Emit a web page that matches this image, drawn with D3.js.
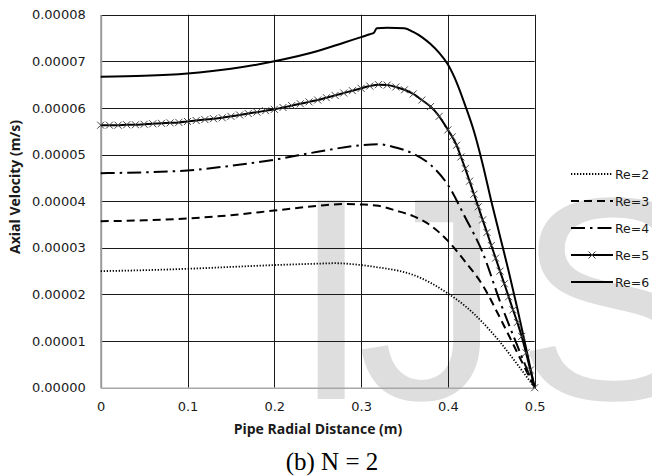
<!DOCTYPE html>
<html><head><meta charset="utf-8">
<script src="https://cdn.jsdelivr.net/npm/d3@7"></script>
<style>html,body{margin:0;padding:0;background:#fff;}svg{display:block;}</style>
</head><body>
<svg id="c" width="652" height="476"></svg>
<script>
// Values of axial velocity in units of 1e-5 m/s
const xTicks = [0, 0.1, 0.2, 0.3, 0.4, 0.5];
const yTicks = [0, 1, 2, 3, 4, 5, 6, 7, 8];
const seriesNames = ["Re=2", "Re=3", "Re=4", "Re=5", "Re=6"];

const re2x = [0,0.05,0.1,0.15,0.2,0.25,0.27,0.3,0.32,0.34,0.36,0.38,0.4,0.42,0.44,0.46,0.48,0.5];
const re2y = [2.50,2.52,2.55,2.59,2.63,2.66,2.67,2.63,2.58,2.52,2.42,2.25,2.02,1.75,1.40,0.98,0.50,0];

const re3x = [0,0.05,0.1,0.15,0.2,0.25,0.28,0.3,0.32,0.34,0.36,0.38,0.4,0.42,0.44,0.46,0.48,0.5];
const re3y = [3.57,3.59,3.63,3.70,3.80,3.90,3.94,3.93,3.90,3.80,3.68,3.48,3.15,2.70,2.20,1.50,0.75,0];

const re4x = [0,0.05,0.1,0.15,0.2,0.25,0.3,0.32,0.34,0.36,0.38,0.4,0.42,0.44,0.46,0.48,0.5];
const re4y = [4.60,4.62,4.66,4.76,4.89,5.06,5.20,5.22,5.15,5.02,4.78,4.35,3.65,2.90,1.85,0.90,0];

const re5x = [0,0.01,0.02,0.03,0.04,0.05,0.06,0.07,0.08,0.09,0.1,0.11,0.12,0.13,0.14,0.15,0.16,0.17,0.18,0.19,0.2,
  0.21,0.22,0.23,0.24,0.25,0.26,0.27,0.28,0.29,0.3,0.31,0.32,0.33,0.34,0.35,0.36,0.37,0.38,0.39,0.4,
  0.405,0.41,0.415,0.42,0.425,0.43,0.435,0.44,0.445,0.45,0.455,0.46,0.465,0.47,0.475,0.48,0.485,0.49,0.495,0.5];
const re5y = [5.63,5.63,5.63,5.64,5.64,5.65,5.66,5.67,5.68,5.69,5.71,5.73,5.75,5.77,5.79,5.82,5.85,5.88,5.91,5.94,5.97,
  6.01,6.05,6.09,6.13,6.17,6.22,6.27,6.32,6.37,6.42,6.47,6.50,6.49,6.45,6.39,6.30,6.17,6.03,5.82,5.53,
  5.38,5.20,4.95,4.70,4.43,4.15,3.88,3.60,3.33,3.05,2.78,2.50,2.23,1.95,1.67,1.40,1.10,0.75,0.38,0];

const re6x = [0,0.05,0.1,0.15,0.2,0.25,0.28,0.3,0.31,0.315,0.318,0.33,0.35,0.36,0.37,0.38,0.39,0.4,0.41,0.42,0.43,0.44,0.45,0.46,0.47,0.48,0.49,0.5];
const re6y = [6.67,6.69,6.74,6.84,7.00,7.22,7.40,7.52,7.58,7.62,7.71,7.72,7.71,7.63,7.52,7.37,7.18,6.93,6.55,6.05,5.50,4.80,4.00,3.25,2.50,1.70,0.85,0];

const svg = d3.select("#c");
const L = 100.7, R = 534.7, T = 14.7, B = 387.7;
const x = d3.scaleLinear().domain([0, 0.5]).range([L, R]);
const y = d3.scaleLinear().domain([0, 8]).range([B, T]);

// watermark
const wm = svg.append("g").attr("fill", "#dedede")
  .style("font-family", "'Liberation Sans', Arial, sans-serif").style("font-size", "289px");
wm.append("text").attr("x", 291).attr("y", 399).text("I");
wm.append("text").attr("x", 357).attr("y", 399).text("J");
wm.append("text").attr("x", 516).attr("y", 399).text("S");

// gridlines
const grid = svg.append("g").attr("stroke", "#1a1a1a").attr("stroke-width", 1);
grid.selectAll("line.h").data(yTicks.filter(d => d > 0)).join("line")
  .attr("x1", L).attr("x2", R).attr("y1", d => Math.round(y(d)) + 0.5).attr("y2", d => Math.round(y(d)) + 0.5);
grid.selectAll("line.v").data(xTicks.filter(d => d > 0)).join("line")
  .attr("y1", T).attr("y2", B).attr("x1", d => Math.round(x(d)) + 0.5).attr("x2", d => Math.round(x(d)) + 0.5);

// axes (gray)
const yAxis = d3.axisLeft(y).tickValues(yTicks).tickSize(0).tickPadding(15)
  .tickFormat(d => (d * 1e-5).toFixed(5));
const gy = svg.append("g").attr("transform", `translate(${L},0)`).call(yAxis);
gy.select(".domain").attr("stroke", "#9a9a9a").attr("stroke-width", 2);
gy.selectAll("text").style("font-family", "'DejaVu Sans', sans-serif").style("font-size", "13px").attr("fill", "#1a1a1a");

const xAxis = d3.axisBottom(x).tickValues(xTicks).tickSize(0).tickPadding(14)
  .tickFormat(d => d === 0 ? "0" : d3.format(".1f")(d));
const gx = svg.append("g").attr("transform", `translate(0,${B})`).call(xAxis);
gx.select(".domain").attr("stroke", "#a8a8a8").attr("stroke-width", 1.5);
gx.selectAll("text").style("font-family", "'DejaVu Sans', sans-serif").style("font-size", "13px").attr("fill", "#1a1a1a");

// series
const line = d3.line().x(d => x(d[0])).y(d => y(d[1])).curve(d3.curveMonotoneX);
const zip = (a, b) => a.map((v, i) => [v, b[i]]);
const styles = [
  {xs: re2x, ys: re2y, dash: "1.3,1.7", w: 1.8},
  {xs: re3x, ys: re3y, dash: "8,5", w: 2},
  {xs: re4x, ys: re4y, dash: "14,5,2.5,5", w: 2},
  {xs: re5x, ys: re5y, dash: null, w: 2},
  {xs: re6x, ys: re6y, dash: null, w: 2}
];
const gs = svg.append("g").attr("fill", "none").attr("stroke", "#000");
styles.forEach((s, i) => {
  const p = gs.append("path").datum(zip(s.xs, s.ys)).attr("d", line).attr("stroke-width", s.w);
  if (s.dash) p.attr("stroke-dasharray", s.dash);
});
const cross = "M-3.5,-3.5L3.5,3.5M-3.5,3.5L3.5,-3.5";
svg.append("g").attr("stroke", "#444").attr("stroke-width", 1).attr("fill", "none")
  .selectAll("path").data(zip(re5x, re5y)).join("path")
  .attr("transform", d => `translate(${x(d[0])},${y(d[1])})`).attr("d", cross);

// legend
const lg = svg.append("g");
const ly0 = 174, lstep = 27;
seriesNames.forEach((n, i) => {
  const yy = ly0 + i * lstep;
  const ln = lg.append("line").attr("x1", 571).attr("x2", 613).attr("y1", yy).attr("y2", yy)
    .attr("stroke", "#000").attr("stroke-width", styles[i].w);
  if (styles[i].dash) ln.attr("stroke-dasharray", styles[i].dash);
  if (i === 3) lg.append("path").attr("d", cross).attr("transform", `translate(592,${yy})`)
    .attr("stroke", "#444").attr("fill", "none");
  lg.append("text").attr("x", 615).attr("y", yy + 4.5).text(n)
    .style("font-family", "'DejaVu Sans', sans-serif").style("font-size", "12.5px").attr("fill", "#1a1a1a");
});

// titles
svg.append("text").attr("x", 318).attr("y", 434).attr("text-anchor", "middle")
  .style("font-family", "'Open Sans', sans-serif").style("font-weight", "bold").style("font-size", "14px")
  .attr("fill", "#1a1a1a").text("Pipe Radial Distance (m)");
svg.append("text").attr("transform", "translate(19.5,187) rotate(-90)").attr("text-anchor", "middle")
  .style("font-family", "'Open Sans', sans-serif").style("font-weight", "bold").style("font-size", "14px")
  .attr("fill", "#1a1a1a").text("Axial Velocity (m/s)");
svg.append("text").attr("x", 332).attr("y", 470).attr("text-anchor", "middle")
  .style("font-family", "'Liberation Serif', serif").style("font-size", "25px")
  .attr("fill", "#000").text("(b) N = 2");
</script>
</body></html>
